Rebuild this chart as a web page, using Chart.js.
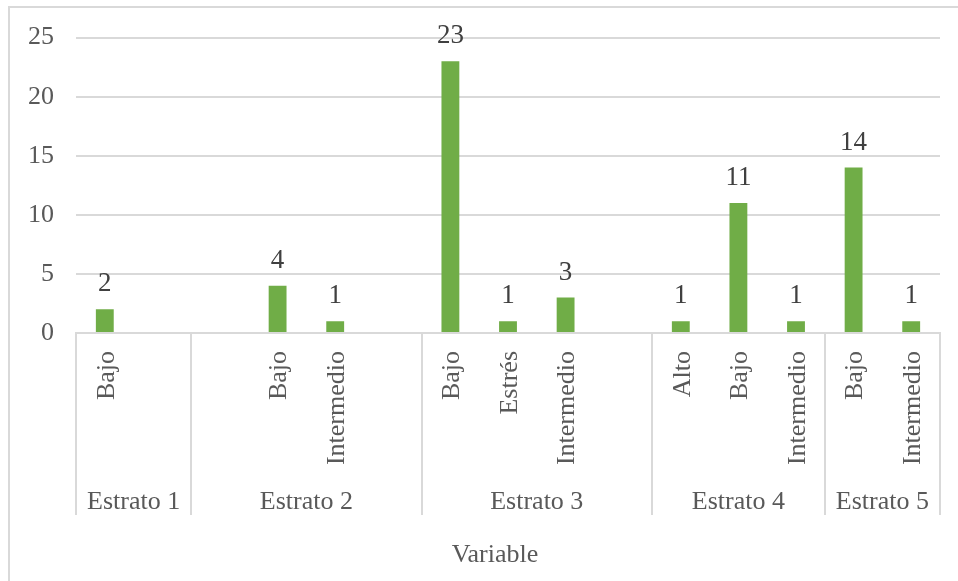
<!DOCTYPE html>
<html lang="es">
<head>
<meta charset="utf-8">
<script src="https://cdn.jsdelivr.net/npm/chart.js@4.4.1/dist/chart.umd.min.js"></script>
<style>
  html, body { margin: 0; padding: 0; background: #fff; }
  #wrap { width: 958px; height: 581px; position: relative; }
</style>
</head>
<body>
<div id="wrap"><canvas id="grafico"></canvas></div>
<script>
// Categorías (nivel 1) y valores
const categorias = ['Bajo', '', '', 'Bajo', 'Intermedio', '', 'Bajo', 'Estrés', 'Intermedio', '', 'Alto', 'Bajo', 'Intermedio', 'Bajo', 'Intermedio'];
const valores = [2, null, null, 4, 1, null, 23, 1, 3, null, 1, 11, 1, 14, 1];

// Grupos (nivel 2): nombre y cuántas categorías abarca cada uno
const grupos = ['Estrato 1', 'Estrato 2', 'Estrato 3', 'Estrato 4', 'Estrato 5'];
const gruposTamano = [2, 4, 4, 3, 2];

const ticksY = [0, 5, 10, 15, 20, 25];
const tituloEje = 'Variable';

const FUENTE = '"Liberation Serif", "Times New Roman", serif';
const COLOR_BARRA = '#70AD47';
const COLOR_TEXTO = '#595959';
const COLOR_LINEA = '#d9d9d9';

// Plugin: etiquetas de datos, segundo nivel del eje, título y borde
const ejeMultinivel = {
  id: 'ejeMultinivel',
  afterDraw(chart) {
    const ctx = chart.ctx;
    const x = chart.scales.x;
    const area = chart.chartArea;
    const paso = x.getPixelForValue(1) - x.getPixelForValue(0);

    ctx.save();

    // etiquetas de datos sobre las barras
    const meta = chart.getDatasetMeta(0);
    ctx.font = '27px ' + FUENTE;
    ctx.fillStyle = '#404040';
    ctx.textAlign = 'center';
    ctx.textBaseline = 'alphabetic';
    meta.data.forEach((barra, i) => {
      if (valores[i] == null) return;
      ctx.fillText(String(valores[i]), barra.x, barra.y - 18);
    });

    // líneas separadoras de grupos
    ctx.strokeStyle = COLOR_LINEA;
    ctx.lineWidth = 2;
    let inicio = 0;
    const bordes = [x.getPixelForValue(0) - paso / 2];
    gruposTamano.forEach(n => {
      inicio += n;
      bordes.push(x.getPixelForValue(inicio - 1) + paso / 2);
    });
    bordes.forEach(px => {
      ctx.beginPath();
      ctx.moveTo(Math.round(px), area.bottom);
      ctx.lineTo(Math.round(px), 515);
      ctx.stroke();
    });

    // nombres de grupos
    ctx.font = '26px ' + FUENTE;
    ctx.fillStyle = COLOR_TEXTO;
    grupos.forEach((g, i) => {
      ctx.fillText(g, (bordes[i] + bordes[i + 1]) / 2, 509);
    });

    // título del eje
    ctx.fillText(tituloEje, 495, 562);

    // borde del gráfico
    ctx.lineWidth = 2;
    ctx.beginPath();
    ctx.moveTo(9, chart.height + 2);
    ctx.lineTo(9, 7);
    ctx.lineTo(chart.width + 2, 7);
    ctx.stroke();

    ctx.restore();
  }
};

new Chart(document.getElementById('grafico'), {
  type: 'bar',
  data: {
    labels: categorias,
    datasets: [{
      data: valores,
      backgroundColor: COLOR_BARRA,
      borderWidth: 0,
      categoryPercentage: 1,
      barPercentage: 0.31
    }]
  },
  options: {
    responsive: true,
    maintainAspectRatio: false,
    animation: false,
    layout: { padding: { top: 37, right: 18, left: 0, bottom: 0 } },
    plugins: {
      legend: { display: false },
      tooltip: { enabled: false }
    },
    scales: {
      x: {
        grid: { display: false },
        border: { display: true, color: COLOR_LINEA, width: 2 },
        ticks: {
          autoSkip: false,
          minRotation: 90,
          maxRotation: 90,
          padding: 10,
          labelOffset: 2,
          color: COLOR_TEXTO,
          font: { family: FUENTE, size: 26 }
        },
        afterFit(scale) { scale.height = 248; }
      },
      y: {
        min: 0,
        max: 25,
        afterBuildTicks(scale) { scale.ticks = ticksY.map(v => ({ value: v })); },
        grid: { color: COLOR_LINEA, lineWidth: 2, drawTicks: false },
        border: { display: false },
        ticks: {
          padding: 22,
          color: COLOR_TEXTO,
          font: { family: FUENTE, size: 26 }
        },
        afterFit(scale) { scale.width = 76; }
      }
    }
  },
  plugins: [ejeMultinivel]
});
</script>
</body>
</html>
